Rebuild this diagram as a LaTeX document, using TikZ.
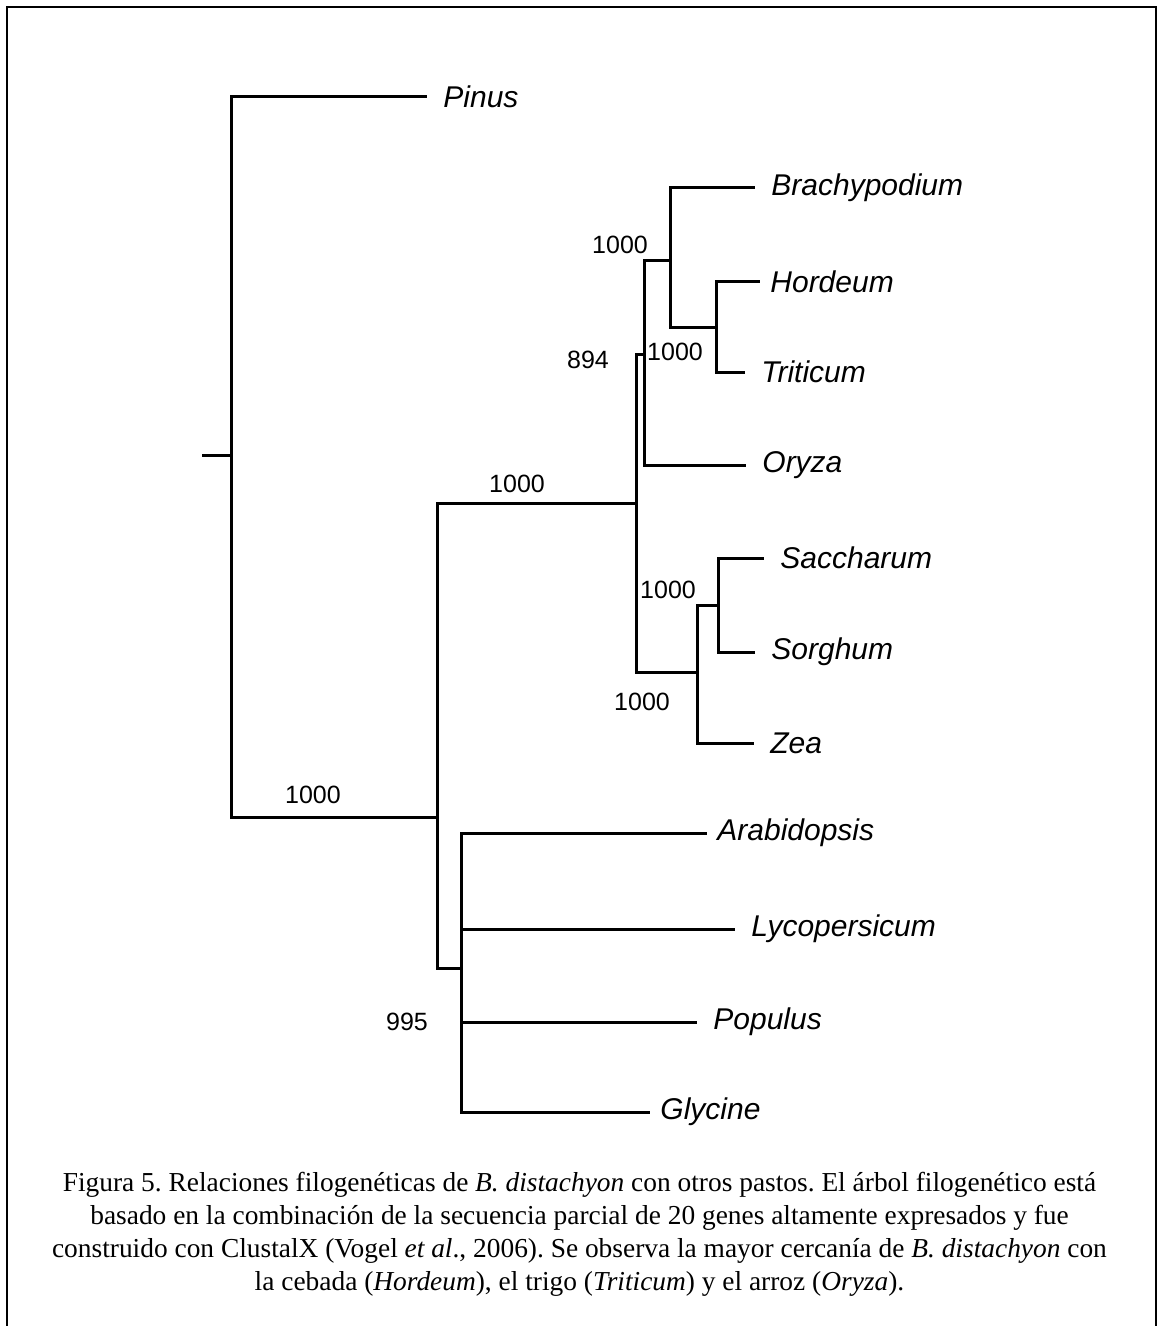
\documentclass[tikz,border=0pt]{standalone}
\usepackage{fontspec}
\setmainfont{Liberation Serif}
\newfontfamily\treefont{Liberation Sans}
\usetikzlibrary{positioning}
\frenchspacing

\begin{document}
\begin{tikzpicture}[
    x=0.5pt, y=-0.5pt,
    node distance=9pt,
    branch/.style={line width=1.5pt, line cap=rect},
    taxon/.style={inner sep=0pt, anchor=west, font=\treefont\fontsize{15}{18}\selectfont\itshape},
    boot/.style={inner sep=0pt, font=\treefont\fontsize{12.5}{15}\selectfont},
    frame/.style={line width=1.1pt}
  ]
    \useasboundingbox (0,0) rectangle (1159,1326);
    \draw[frame] (7,1326) -- (7,7) -- (1156,7) -- (1156,1326);

    % internal nodes
    \coordinate (stub) at (203,455);
    \coordinate (root) at (231,455);
    \coordinate (angio) at (437,817);
    \coordinate (grass) at (636,503);
    \coordinate (bep) at (644,354);
    \coordinate (bht) at (670,261);
    \coordinate (ht) at (716,328);
    \coordinate (pac) at (697,672);
    \coordinate (ss) at (718,605);
    \coordinate (dicot) at (461,968);

    % tips
    \coordinate (tPin) at (425,97);
    \coordinate (tBra) at (753,188);
    \coordinate (tHor) at (758,282);
    \coordinate (tTri) at (743,372);
    \coordinate (tOry) at (744,465);
    \coordinate (tSac) at (762,558);
    \coordinate (tSor) at (753,652);
    \coordinate (tZea) at (752,743);
    \coordinate (tAra) at (705,833);
    \coordinate (tLyc) at (733,929);
    \coordinate (tPop) at (695,1022);
    \coordinate (tGly) at (648,1112);

    \node[taxon, right=of tPin] (pinus) {Pinus};
    \node[taxon, right=of tBra] (brachy) {Brachypodium};
    \node[taxon, right=6pt of tHor] (hordeum) {Hordeum};
    \node[taxon, right=of tTri] (triticum) {Triticum};
    \node[taxon, right=of tOry] (oryza) {Oryza};
    \node[taxon, right=of tSac] (saccharum) {Saccharum};
    \node[taxon, right=of tSor] (sorghum) {Sorghum};
    \node[taxon, right=of tZea] (zea) {Zea};
    \node[taxon, right=6pt of tAra] (arabid) {Arabidopsis};
    \node[taxon, right=of tLyc] (lycop) {Lycopersicum};
    \node[taxon, right=of tPop] (populus) {Populus};
    \node[taxon, right=6pt of tGly] (glycine) {Glycine};

    % branches
    \draw[branch] (stub) -- (root);
    \draw[branch] (root) |- (tPin);
    \draw[branch] (root) |- (angio);
    \draw[branch] (angio) |- (grass);
    \draw[branch] (angio) |- (dicot);
    \draw[branch] (grass) |- (bep);
    \draw[branch] (grass) |- (pac);
    \draw[branch] (bep) |- (bht);
    \draw[branch] (bep) |- (tOry);
    \draw[branch] (bht) |- (tBra);
    \draw[branch] (bht) |- (ht);
    \draw[branch] (ht) |- (tHor);
    \draw[branch] (ht) |- (tTri);
    \draw[branch] (pac) |- (ss);
    \draw[branch] (pac) |- (tZea);
    \draw[branch] (ss) |- (tSac);
    \draw[branch] (ss) |- (tSor);
    \draw[branch] (dicot) |- (tAra);
    \draw[branch] (dicot) |- (tLyc);
    \draw[branch] (dicot) |- (tPop);
    \draw[branch] (dicot) |- (tGly);

    % bootstrap values
    \node[boot] (bsAngio) at (313,795) {1000};
    \node[boot] (bsGrass) at (517,484) {1000};
    \node[boot] (bsDicot) at (407,1022) {995};
    \node[boot] (bsBep) at (588,360) {894};
    \node[boot] (bsBht) at (620,245) {1000};
    \node[boot] (bsHt) at (675,352) {1000};
    \node[boot] (bsSs) at (668,590) {1000};
    \node[boot] (bsPac) at (642,702) {1000};

    \node[align=center, inner sep=0pt, font=\fontsize{13.7}{16.5}\selectfont] (caption) at (579.5,1234)
      {Figura 5. Relaciones filogenéticas de \textit{B. distachyon} con otros pastos. El árbol filogenético está\\
       basado en la combinación de la secuencia parcial de 20 genes altamente expresados y fue\\
       construido con ClustalX (Vogel \textit{et al}., 2006). Se observa la mayor cercanía de \textit{B. distachyon} con\\
       la cebada (\textit{Hordeum}), el trigo (\textit{Triticum}) y el arroz (\textit{Oryza}).};
  \end{tikzpicture}
\end{document}
